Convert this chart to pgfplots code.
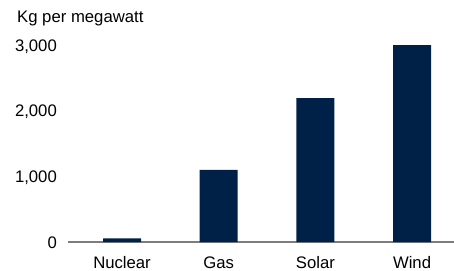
\documentclass[border=0pt]{standalone}
\usepackage{fontspec}
\setmainfont{Liberation Sans}
\usepackage{pgfplots}
\pgfplotsset{compat=1.18}
\definecolor{navy}{RGB}{0,33,71}
\definecolor{baseline}{RGB}{125,125,125}
\newcommand{\chartfont}{\fontsize{16.7bp}{20bp}\selectfont}
\begin{document}
\chartfont
\begin{tikzpicture}
\begin{axis}[
  scale only axis, width=386bp, height=197bp,
  xmin=-0.559, xmax=3.434, ymin=0, ymax=3000,
  xtick={0,1,2,3}, xticklabels={Nuclear,Gas,Solar,Wind},
  ytick={0,1000,2000,3000},
  scaled y ticks=false,
  /pgf/number format/assume math mode=true,
  /pgf/number format/1000 sep={,},
  axis x line*=bottom, axis y line*=left,
  x axis line style={draw=baseline, line width=1.5bp, -},
  y axis line style={draw=none},
  major tick length=0pt, tick style={draw=none},
  xticklabel style={anchor=north, inner sep=0pt, yshift=-14.5bp, font=\chartfont},
  yticklabel style={anchor=base east, inner sep=0pt, xshift=-11bp, yshift=-6bp, font=\chartfont},
  title={Kg per megawatt},
  title style={at={(0,1)}, anchor=base west, inner sep=0pt, xshift=-51bp, yshift=17bp, font=\chartfont},
  clip=false,
]
\addplot[ybar, bar width=38bp, fill=navy, draw=none] coordinates {(0,55) (1,1100) (2,2190) (3,3000)};
\coordinate (bl) at (rel axis cs:0,0);
\coordinate (tr) at (rel axis cs:1,1);
\end{axis}
\pgfresetboundingbox
\path[use as bounding box] ([xshift=-68bp,yshift=-29bp]bl) rectangle ([yshift=45bp]tr);
\end{tikzpicture}
\end{document}
